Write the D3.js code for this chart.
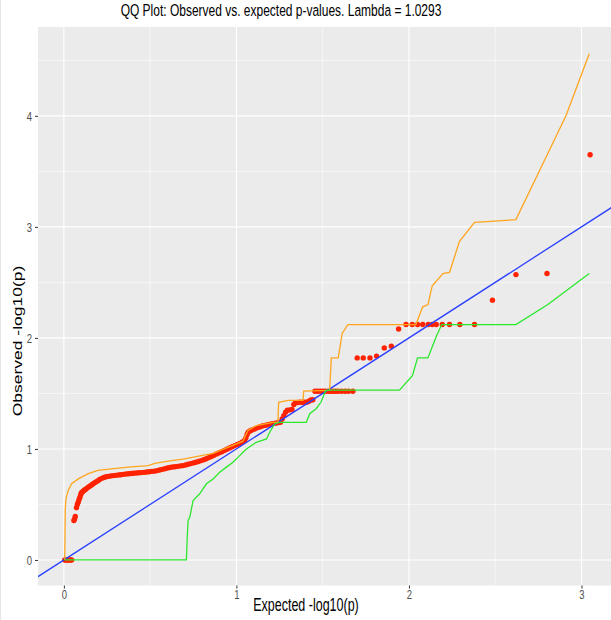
<!DOCTYPE html>
<html>
<head>
<meta charset="utf-8">
<script src="https://cdn.jsdelivr.net/npm/d3@7"></script>
<style>
  body { margin: 0; background: #fff; }
  text { font-family: "Liberation Sans", Arial, sans-serif; }
</style>
</head>
<body>
<svg id="chart" width="611" height="620"></svg>
<script>
// observed vs expected -log10(p)
var expected = [0.005, 0.013, 0.021, 0.029, 0.037, 0.045,
  0.058, 0.062, 0.066, 0.073, 0.078, 0.083, 0.088, 0.093, 0.098, 0.102, 0.108, 0.115, 0.122, 0.13,
  0.141, 0.152, 0.162, 0.172, 0.183, 0.195, 0.207, 0.22, 0.232, 0.245, 0.258, 0.272, 0.286, 0.3,
  0.315, 0.33, 0.345, 0.36, 0.375, 0.39, 0.405, 0.42, 0.435, 0.45, 0.465, 0.48, 0.495, 0.51, 0.525,
  0.54, 0.555, 0.57, 0.585, 0.6, 0.615, 0.63, 0.645, 0.66, 0.675, 0.69, 0.705, 0.72, 0.735, 0.75,
  0.765, 0.78, 0.795, 0.81, 0.825, 0.84, 0.855, 0.87, 0.885, 0.9, 0.915, 0.93, 0.945, 0.96, 0.975,
  0.99, 1.005, 1.02, 1.035, 1.048, 1.055, 1.062, 1.068, 1.078, 1.09, 1.105, 1.12, 1.135, 1.15, 1.165,
  1.18, 1.195, 1.21, 1.225, 1.24, 1.255, 1.265, 1.275, 1.285, 1.295, 1.31, 1.322, 1.333, 1.342, 1.355,
  1.368, 1.382, 1.395, 1.408, 1.42, 1.432, 1.443,
  1.455, 1.47, 1.485, 1.5, 1.515, 1.53, 1.545, 1.56, 1.575, 1.59, 1.61, 1.63, 1.65, 1.675,
  1.7, 1.735, 1.774, 1.812, 1.857, 1.898, 1.94, 1.983, 2.019, 2.05, 2.08, 2.112, 2.135, 2.158, 2.193,
  2.235, 2.295, 2.38, 2.484, 2.62, 2.8, 3.05];
var observed = [0, 0, 0, 0, 0, 0,
  0.356, 0.37, 0.392, 0.47, 0.5, 0.52, 0.545, 0.565, 0.59, 0.605, 0.615, 0.624, 0.632, 0.642,
  0.655, 0.667, 0.678, 0.688, 0.7, 0.712, 0.724, 0.735, 0.743, 0.749, 0.753, 0.757, 0.76, 0.762,
  0.765, 0.768, 0.771, 0.774, 0.777, 0.779, 0.781, 0.783, 0.785, 0.787, 0.789, 0.792, 0.795, 0.798, 0.8,
  0.805, 0.81, 0.816, 0.822, 0.828, 0.833, 0.837, 0.84, 0.843, 0.847, 0.85, 0.855, 0.862, 0.868, 0.874,
  0.88, 0.887, 0.895, 0.903, 0.912, 0.922, 0.932, 0.943, 0.955, 0.965, 0.975, 0.986, 0.997, 1.008, 1.02,
  1.03, 1.04, 1.05, 1.062, 1.077, 1.1, 1.13, 1.15, 1.162, 1.17, 1.18, 1.19, 1.198, 1.206, 1.212,
  1.218, 1.223, 1.227, 1.232, 1.236, 1.24, 1.27, 1.3, 1.33, 1.348, 1.352, 1.356, 1.4, 1.416, 1.418,
  1.42, 1.42, 1.42, 1.42, 1.43, 1.44, 1.443,
  1.52, 1.52, 1.52, 1.52, 1.52, 1.52, 1.52, 1.52, 1.52, 1.52, 1.52, 1.52, 1.52, 1.52,
  1.82, 1.82, 1.82, 1.836, 1.91, 1.925, 2.08, 2.12, 2.12, 2.12, 2.12, 2.12, 2.12, 2.12, 2.12,
  2.12, 2.12, 2.12, 2.34, 2.57, 2.58, 3.65];

// upper confidence bound (orange)
var upperX = [0.005, 0.008, 0.012, 0.025, 0.045, 0.083, 0.141, 0.198, 0.276, 0.372, 0.488, 0.527, 0.604,
  0.7, 0.865, 0.961, 1.038, 1.067, 1.115, 1.212, 1.24, 1.245, 1.3, 1.386, 1.39, 1.54, 1.55, 1.59, 1.613,
  1.646, 2.04, 2.08, 2.11, 2.135, 2.197, 2.235, 2.293, 2.38, 2.62, 2.795, 2.91, 3.045];
var upperY = [0, 0.45, 0.55, 0.626, 0.687, 0.73, 0.777, 0.806, 0.82, 0.836, 0.85, 0.87, 0.89,
  0.91, 0.96, 1.02, 1.07, 1.166, 1.21, 1.24, 1.24, 1.42, 1.437, 1.437, 1.52, 1.527, 1.82, 1.82, 2.04,
  2.12, 2.12, 2.28, 2.3, 2.47, 2.58, 2.59, 2.87, 3.04, 3.065, 3.63, 4.0, 4.56];

// lower confidence bound (green)
var lowerX = [0.005, 0.71, 0.715, 0.72, 0.73, 0.749, 0.787, 0.826, 0.865, 0.903, 0.942, 0.98, 1.019,
  1.058, 1.077, 1.115, 1.174, 1.193, 1.222, 1.25, 1.405, 1.425, 1.462, 1.49, 1.51, 1.52, 1.945, 2.02,
  2.05, 2.11, 2.16, 2.19, 2.62, 2.805, 3.045];
var lowerY = [0, 0, 0.205, 0.356, 0.386, 0.536, 0.596, 0.686, 0.73, 0.79, 0.836, 0.88, 0.94,
  1.0, 1.02, 1.06, 1.09, 1.15, 1.227, 1.24, 1.24, 1.317, 1.362, 1.42, 1.497, 1.53, 1.53, 1.66,
  1.82, 1.82, 2.02, 2.12, 2.12, 2.3, 2.58];

var xTicks = [0, 1, 2, 3];
var yTicks = [0, 1, 2, 3, 4];
var titleText = "QQ Plot: Observed vs. expected p-values. Lambda = 1.0293";

var svg = d3.select("#chart");
var panel = {left: 38, top: 27, right: 616, bottom: 585.5};
// the picture looks stretched vertically, text included
var stretch = 1.4;

var x = d3.scaleLinear().domain([-0.15, 3.2]).range([panel.left, panel.right]);
var y = d3.scaleLinear().domain([-0.23, 4.8]).range([panel.bottom, panel.top]);

// faint edge line at the very left of the picture
svg.append("line").attr("x1", 0.5).attr("x2", 0.5).attr("y1", 0).attr("y2", 620)
  .attr("stroke", "#e6e6e6").attr("stroke-width", 1);

svg.append("defs").append("clipPath").attr("id", "clip")
  .append("rect").attr("x", panel.left).attr("y", panel.top)
  .attr("width", panel.right - panel.left).attr("height", panel.bottom - panel.top);

svg.append("rect").attr("x", panel.left).attr("y", panel.top)
  .attr("width", panel.right - panel.left).attr("height", panel.bottom - panel.top)
  .attr("fill", "#EBEBEB");

var grid = svg.append("g").attr("clip-path", "url(#clip)");
// minor grid
[-0.5, 0.5, 1.5, 2.5].forEach(function(v) {
  grid.append("line").attr("x1", x(v)).attr("x2", x(v)).attr("y1", panel.top).attr("y2", panel.bottom)
    .attr("stroke", "#fff").attr("stroke-width", 0.55);
});
[0.5, 1.5, 2.5, 3.5, 4.5].forEach(function(v) {
  grid.append("line").attr("y1", y(v)).attr("y2", y(v)).attr("x1", panel.left).attr("x2", panel.right)
    .attr("stroke", "#fff").attr("stroke-width", 0.55);
});
// major grid
xTicks.forEach(function(v) {
  grid.append("line").attr("x1", x(v)).attr("x2", x(v)).attr("y1", panel.top).attr("y2", panel.bottom)
    .attr("stroke", "#fff").attr("stroke-width", 1.1);
});
yTicks.forEach(function(v) {
  grid.append("line").attr("y1", y(v)).attr("y2", y(v)).attr("x1", panel.left).attr("x2", panel.right)
    .attr("stroke", "#fff").attr("stroke-width", 1.1);
});

// axes
var xAxis = d3.axisBottom(x).tickValues(xTicks).tickFormat(d3.format("d")).tickSize(3).tickPadding(0);
var yAxis = d3.axisLeft(y).tickValues(yTicks).tickFormat(d3.format("d")).tickSize(3).tickPadding(3);

var gx = svg.append("g").attr("transform", "translate(0," + panel.bottom + ")").call(xAxis);
var gy = svg.append("g").attr("transform", "translate(" + panel.left + ",0)").call(yAxis);
[gx, gy].forEach(function(g) {
  g.select(".domain").remove();
  g.selectAll(".tick line").attr("stroke", "#333").attr("stroke-width", 1);
  g.selectAll(".tick text").attr("fill", "#4D4D4D").style("font-size", "9.5px")
    .style("font-family", "'Liberation Sans', Arial, sans-serif")
    .attr("transform", "scale(1," + stretch + ")");
});
gy.selectAll(".tick text").attr("x", -6).attr("dy", "0.36em");

var plot = svg.append("g").attr("clip-path", "url(#clip)");

var pts = expected.map(function(e, i) { return {x: e, y: observed[i]}; });
plot.selectAll("circle.pt").data(pts).enter().append("circle")
  .attr("class", "pt")
  .attr("cx", function(d) { return x(d.x); })
  .attr("cy", function(d) { return y(d.y); })
  .attr("r", 2.7)
  .attr("fill", "#FF2200");

var line = d3.line().x(function(d) { return x(d[0]); }).y(function(d) { return y(d[1]); });

// identity line
plot.append("path").datum([[-0.15, -0.15], [3.2, 3.2]])
  .attr("d", line).attr("fill", "none").attr("stroke", "#2B40FF").attr("stroke-width", 1.3);

plot.append("path").datum(upperX.map(function(v, i) { return [v, upperY[i]]; }))
  .attr("d", line).attr("fill", "none").attr("stroke", "#FFA51E").attr("stroke-width", 1.3);

plot.append("path").datum(lowerX.map(function(v, i) { return [v, lowerY[i]]; }))
  .attr("d", line).attr("fill", "none").attr("stroke", "#2BE82B").attr("stroke-width", 1.3);

// title and axis labels
svg.append("text").attr("transform", "translate(281,16) scale(1," + stretch + ")")
  .attr("text-anchor", "middle")
  .style("font-size", "12px").attr("fill", "#000").text(titleText);

svg.append("text").attr("transform", "translate(306,611) scale(1," + stretch + ")")
  .attr("text-anchor", "middle")
  .style("font-size", "12.5px").attr("fill", "#000").text("Expected -log10(p)");

svg.append("text").attr("transform", "translate(22,341) rotate(-90) scale(" + stretch + ",1)")
  .attr("text-anchor", "middle")
  .style("font-size", "12.5px").attr("fill", "#000").text("Observed -log10(p)");
</script>
</body>
</html>
